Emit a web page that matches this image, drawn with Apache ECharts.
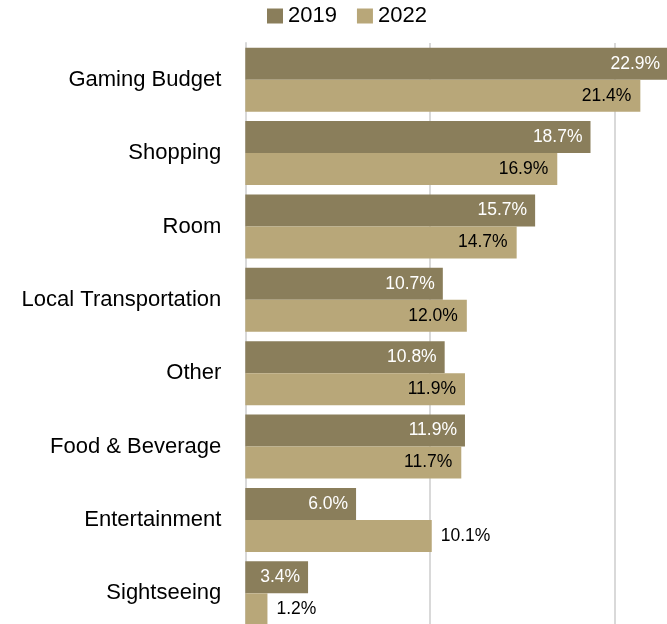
<!DOCTYPE html>
<html>
<head>
<meta charset="utf-8">
<script src="https://cdn.jsdelivr.net/npm/echarts@6/dist/echarts.min.js"></script>
<style>
html,body{margin:0;padding:0;background:#fff;overflow:hidden;width:667px;height:624px;}
#chart{width:720px;height:650px;}
</style>
</head>
<body>
<div id="chart"></div>
<script>
var categories = ['Gaming Budget','Shopping','Room','Local Transportation','Other','Food & Beverage','Entertainment','Sightseeing'];
var values2019 = [22.9, 18.7, 15.7, 10.7, 10.8, 11.9, 6.0, 3.4];
var values2022 = [21.4, 16.9, 14.7, 12.0, 11.9, 11.7, 10.1, 1.2];
var outside2022 = [false, false, false, false, false, false, true, true];
var seriesNames = ['2019','2022'];
var xTicks = [0, 10, 20, 25];

var FONT = '"Liberation Sans Narrow","Arial Narrow","Liberation Sans",Arial,sans-serif';
var C2019 = '#8a7e5b';
var C2022 = '#b8a779';

var chart = echarts.init(document.getElementById('chart'), null, {renderer:'canvas'});
chart.setOption({
  animation:false,
  backgroundColor:'#fff',
  textStyle:{fontFamily:FONT},
  legend:{
    data:seriesNames,
    top:0,
    left:262,
    itemWidth:16,
    itemHeight:15,
    itemGap:20,
    icon:'rect',
    textStyle:{fontFamily:FONT,fontSize:22,color:'#000'}
  },
  grid:{left:245.3,top:43,width:461.5,height:587},
  xAxis:{
    type:'value',min:xTicks[0],max:xTicks[xTicks.length-1],interval:10,
    axisLabel:{show:false},axisTick:{show:false},axisLine:{show:false},
    splitLine:{show:true,lineStyle:{color:'#d9d9d9',width:2}}
  },
  yAxis:{
    type:'category',data:categories,inverse:true,
    axisTick:{show:false},
    axisLine:{show:true,lineStyle:{color:'#d9d9d9',width:2}},
    axisLabel:{fontFamily:FONT,fontSize:22,color:'#000',margin:24}
  },
  series:[
    {
      name:seriesNames[0],type:'bar',barWidth:32,barGap:'0%',
      itemStyle:{color:C2019},
      label:{show:true,position:'insideRight',distance:8,color:'#fff',fontFamily:FONT,fontSize:17.5,
        formatter:function(p){return p.value.toFixed(1)+'%';}},
      data:values2019
    },
    {
      name:seriesNames[1],type:'bar',barWidth:32,barGap:'0%',
      itemStyle:{color:C2022},
      label:{show:true,color:'#000',fontFamily:FONT,fontSize:17.5,
        formatter:function(p){return p.value.toFixed(1)+'%';}},
      data:values2022.map(function(v,i){
        return outside2022[i]
          ? {value:v,label:{position:'right',distance:9}}
          : {value:v,label:{position:'insideRight',distance:9}};
      })
    }
  ]
});
</script>
</body>
</html>
